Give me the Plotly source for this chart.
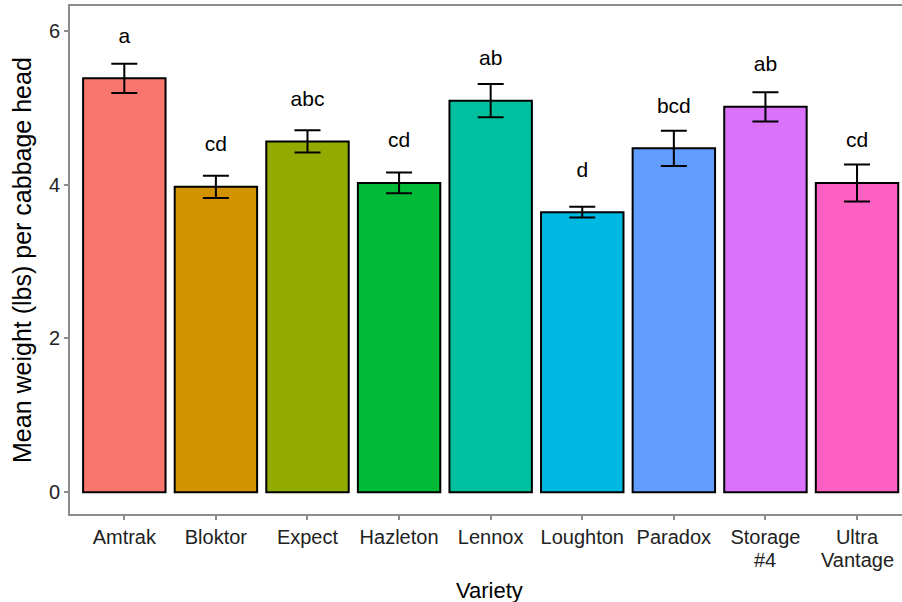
import plotly.graph_objects as go

# Mean cabbage head weight by variety, with standard errors and grouping letters
varieties = ["Amtrak", "Bloktor", "Expect", "Hazleton", "Lennox",
             "Loughton", "Paradox", "Storage #4", "Ultra Vantage"]
tick_first_line = ["Amtrak", "Bloktor", "Expect", "Hazleton", "Lennox",
                   "Loughton", "Paradox", "Storage", "Ultra"]
tick_second_line = ["", "", "", "", "", "", "", "#4", "Vantage"]
mean_weight = [5.38, 3.97, 4.56, 4.02, 5.09, 3.64, 4.47, 5.01, 4.02]
std_error = [0.19, 0.145, 0.145, 0.135, 0.215, 0.07, 0.23, 0.19, 0.24]
group_letters = ["a", "cd", "abc", "cd", "ab", "d", "bcd", "ab", "cd"]
bar_colors = ["#F8766D", "#D39200", "#93AA00", "#00BA38", "#00C19F",
              "#00B9E3", "#619CFF", "#DB72FB", "#FF61C3"]

FONT = "Liberation Sans, Arial, sans-serif"
AXIS_GREY = "#8c8c8c"
TICK_COLOR = "#222222"

fig = go.Figure()
fig.add_trace(go.Bar(
    x=varieties,
    y=mean_weight,
    width=0.9,
    marker=dict(color=bar_colors, line=dict(color="black", width=2)),
    error_y=dict(type="data", array=std_error, visible=True,
                 color="black", thickness=2, width=13),
    showlegend=False,
    hoverinfo="x+y",
))

# grouping letters above each bar
fig.add_trace(go.Scatter(
    x=varieties,
    y=[m + 0.53 for m in mean_weight],
    mode="text",
    text=group_letters,
    textposition="middle center",
    textfont=dict(family=FONT, size=21, color="black"),
    showlegend=False,
    hoverinfo="skip",
))

annotations = [
    dict(text="Variety", xref="paper", yref="paper",
         x=(489.5 - 70) / 832, y=(514 - 590) / 508,
         xanchor="center", yanchor="middle", showarrow=False,
         font=dict(family=FONT, size=22, color="black")),
    dict(text="Mean weight (lbs) per cabbage head", xref="paper", yref="paper",
         x=(22 - 70) / 832, y=0.5, textangle=-90,
         xanchor="center", yanchor="middle", showarrow=False,
         font=dict(family=FONT, size=25, color="black")),
]
# second line of the two-word variety names, set close under the tick label
for name, extra in zip(varieties, tick_second_line):
    if extra:
        annotations.append(dict(
            text=extra, x=name, xref="x", yref="paper", y=(514 - 560) / 508,
            xanchor="center", yanchor="middle", showarrow=False,
            font=dict(family=FONT, size=20, color=TICK_COLOR)))

fig.update_layout(
    width=902, height=602,
    margin=dict(l=70, r=0, t=6, b=88),
    paper_bgcolor="white",
    plot_bgcolor="white",
    font=dict(family=FONT, color="black"),
    annotations=annotations,
)

fig.update_xaxes(
    type="category",
    categoryorder="array", categoryarray=varieties,
    tickvals=varieties, ticktext=tick_first_line,
    range=[-0.593, 8.491],
    showline=True, linecolor=AXIS_GREY, linewidth=2, mirror=True,
    ticks="outside", ticklen=4, tickwidth=1.5, tickcolor=AXIS_GREY,
    tickfont=dict(family=FONT, size=20, color=TICK_COLOR),
    showgrid=False, zeroline=False,
)
fig.update_yaxes(
    range=[-0.282, 6.32],
    tickvals=[0, 2, 4, 6],
    showline=True, linecolor=AXIS_GREY, linewidth=2, mirror=False,
    ticks="outside", ticklen=4, tickwidth=1.5, tickcolor=AXIS_GREY,
    tickfont=dict(family=FONT, size=20, color=TICK_COLOR),
    showgrid=False, zeroline=False,
)

fig.write_html("out.html")
